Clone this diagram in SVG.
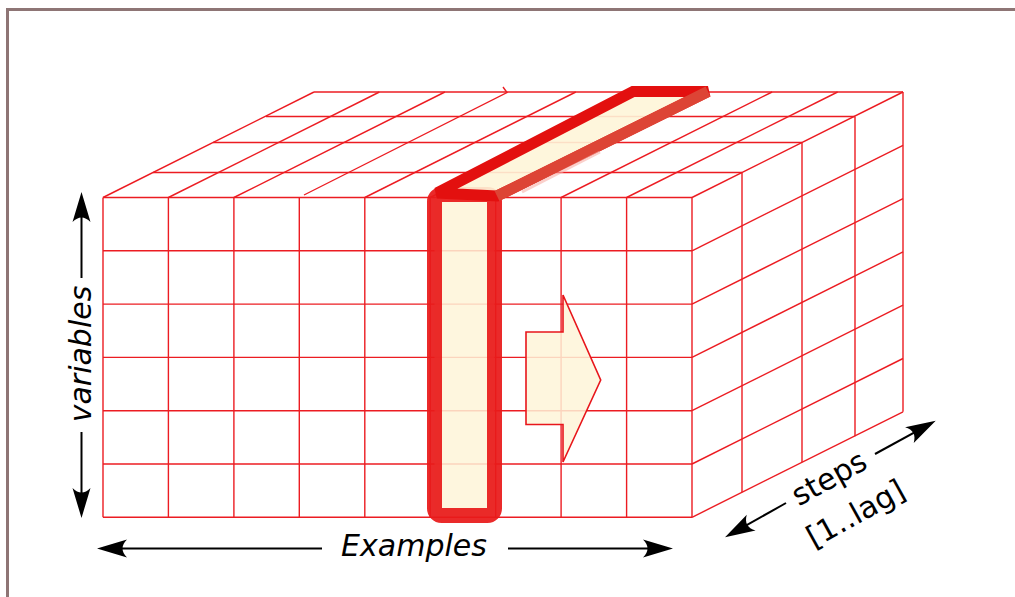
<svg xmlns="http://www.w3.org/2000/svg" width="1015" height="597" viewBox="0 0 1015 597">
  <style>
    .grid line, .grid path { stroke: #ec1c22; stroke-width: 1.4; fill: none; }
    .axis { stroke: #000; stroke-width: 2; fill: none; }
    .lbl { font-family: "DejaVu Sans", "Liberation Sans", sans-serif; font-size: 30px; fill: #000; }
    .it { font-style: italic; }
    .cream { fill: #fef5d8; }
  </style>
  <defs>
    <marker id="ah" markerUnits="userSpaceOnUse" markerWidth="40" markerHeight="24" refX="22" refY="10" orient="auto" overflow="visible">
      <path d="M30,10 L0,1 C6,7 6,13 0,19 Z" fill="#000"/>
    </marker>
  </defs>
  <rect x="0" y="0" width="1015" height="597" fill="#fff"/>
  <rect id="frame" x="7.5" y="9.5" width="1030" height="620" fill="none" stroke="#8e7575" stroke-width="3"/>

  <g id="cube" class="grid">
    <line x1="103" y1="197.5" x2="103" y2="517.3"/>
    <line x1="168.4" y1="197.5" x2="168.4" y2="517.3"/>
    <line x1="233.9" y1="197.5" x2="233.9" y2="517.3"/>
    <line x1="299.3" y1="197.5" x2="299.3" y2="517.3"/>
    <line x1="364.8" y1="197.5" x2="364.8" y2="517.3"/>
    <line x1="430.2" y1="197.5" x2="430.2" y2="517.3"/>
    <line x1="495.7" y1="197.5" x2="495.7" y2="517.3"/>
    <line x1="561.1" y1="197.5" x2="561.1" y2="517.3"/>
    <line x1="626.6" y1="197.5" x2="626.6" y2="517.3"/>
    <line x1="692" y1="197.5" x2="692" y2="517.3"/>
    <line x1="103" y1="197.5" x2="692" y2="197.5"/>
    <line x1="103" y1="250.8" x2="692" y2="250.8"/>
    <line x1="103" y1="304.1" x2="692" y2="304.1"/>
    <line x1="103" y1="357.4" x2="692" y2="357.4"/>
    <line x1="103" y1="410.7" x2="692" y2="410.7"/>
    <line x1="103" y1="464" x2="692" y2="464"/>
    <line x1="103" y1="517.3" x2="692" y2="517.3"/>
    <line x1="153" y1="172.5" x2="742" y2="172.5"/>
    <line x1="213" y1="142.5" x2="802" y2="142.5"/>
    <line x1="266" y1="116.5" x2="855" y2="116.5"/>
    <line x1="314" y1="92" x2="903" y2="92"/>
    <line x1="103" y1="197.5" x2="314" y2="92"/>
    <line x1="168.4" y1="197.5" x2="379.4" y2="92"/>
    <line x1="233.9" y1="197.5" x2="444.9" y2="92"/>
    <path d="M304,195 L507,92.5 L503,87"/>
    <line x1="364.8" y1="197.5" x2="575.8" y2="92"/>
    <line x1="430.2" y1="197.5" x2="641.2" y2="92"/>
    <line x1="495.7" y1="197.5" x2="706.7" y2="92"/>
    <line x1="561.1" y1="197.5" x2="772.1" y2="92"/>
    <line x1="626.6" y1="197.5" x2="837.6" y2="92"/>
    <line x1="692" y1="197.5" x2="903" y2="92"/>
    <line x1="692" y1="250.8" x2="903" y2="145.3"/>
    <line x1="692" y1="304.1" x2="903" y2="198.6"/>
    <line x1="692" y1="357.4" x2="903" y2="251.9"/>
    <line x1="692" y1="410.7" x2="903" y2="305.2"/>
    <line x1="692" y1="464" x2="903" y2="358.5"/>
    <line x1="692" y1="517.3" x2="903" y2="411.8"/>
    <line x1="742" y1="172.5" x2="742" y2="492.3"/>
    <line x1="802" y1="142.5" x2="802" y2="462.3"/>
    <line x1="855" y1="116.5" x2="855" y2="436.3"/>
    <line x1="903" y1="92" x2="903" y2="411.8"/>
  </g>

  <g id="highlight-column">
    <rect x="434.5" y="194.5" width="60" height="321" rx="7" ry="7" class="cream" fill-opacity="0.85" stroke="#e81a1a" stroke-opacity="0.93" stroke-width="15"/>
  </g>

  <g id="highlight-bar">
    <polygon points="437,193 633,91.5 708,91.5 497,196" class="cream" fill-opacity="0.9" stroke="#e3100f" stroke-width="11" stroke-linejoin="miter" stroke-miterlimit="2"/>
    <line x1="708" y1="91.5" x2="497" y2="196" stroke="#dc4a3a" stroke-width="11" stroke-opacity="0.9"/>
    <line x1="600" y1="152" x2="522" y2="192" stroke="#f6b0a8" stroke-width="3" stroke-opacity="0.6"/>
  </g>

  <g id="shift-arrow">
    <polygon points="526,332 563,332 563,295 600.7,380 563,462 563,424.5 526,424.5" class="cream" fill-opacity="0.85" stroke="#e8161b" stroke-width="1.6"/>
  </g>

  <g id="connectors">
    <line class="axis" x1="81.5" y1="278" x2="81.5" y2="200" marker-end="url(#ah)"/>
    <line class="axis" x1="81.5" y1="432" x2="81.5" y2="510" marker-end="url(#ah)"/>
    <line class="axis" x1="322" y1="548.5" x2="105" y2="548.5" marker-end="url(#ah)"/>
    <line class="axis" x1="508" y1="548.5" x2="665" y2="548.5" marker-end="url(#ah)"/>
    <line class="axis" x1="786" y1="503" x2="732" y2="533.4" marker-end="url(#ah)"/>
    <line class="axis" x1="875" y1="454" x2="928.7" y2="424.6" marker-end="url(#ah)"/>
  </g>

  <g id="labels">
    <text class="lbl it" transform="translate(91,354) rotate(-90)" text-anchor="middle">variables</text>
    <text class="lbl it" x="414" y="556" text-anchor="middle">Examples</text>
    <g transform="translate(834,487) rotate(-29)">
      <text class="lbl" x="0" y="0" text-anchor="middle">steps</text>
      <text class="lbl" x="6" y="44" text-anchor="middle">[1..lag]</text>
    </g>
  </g>
</svg>
